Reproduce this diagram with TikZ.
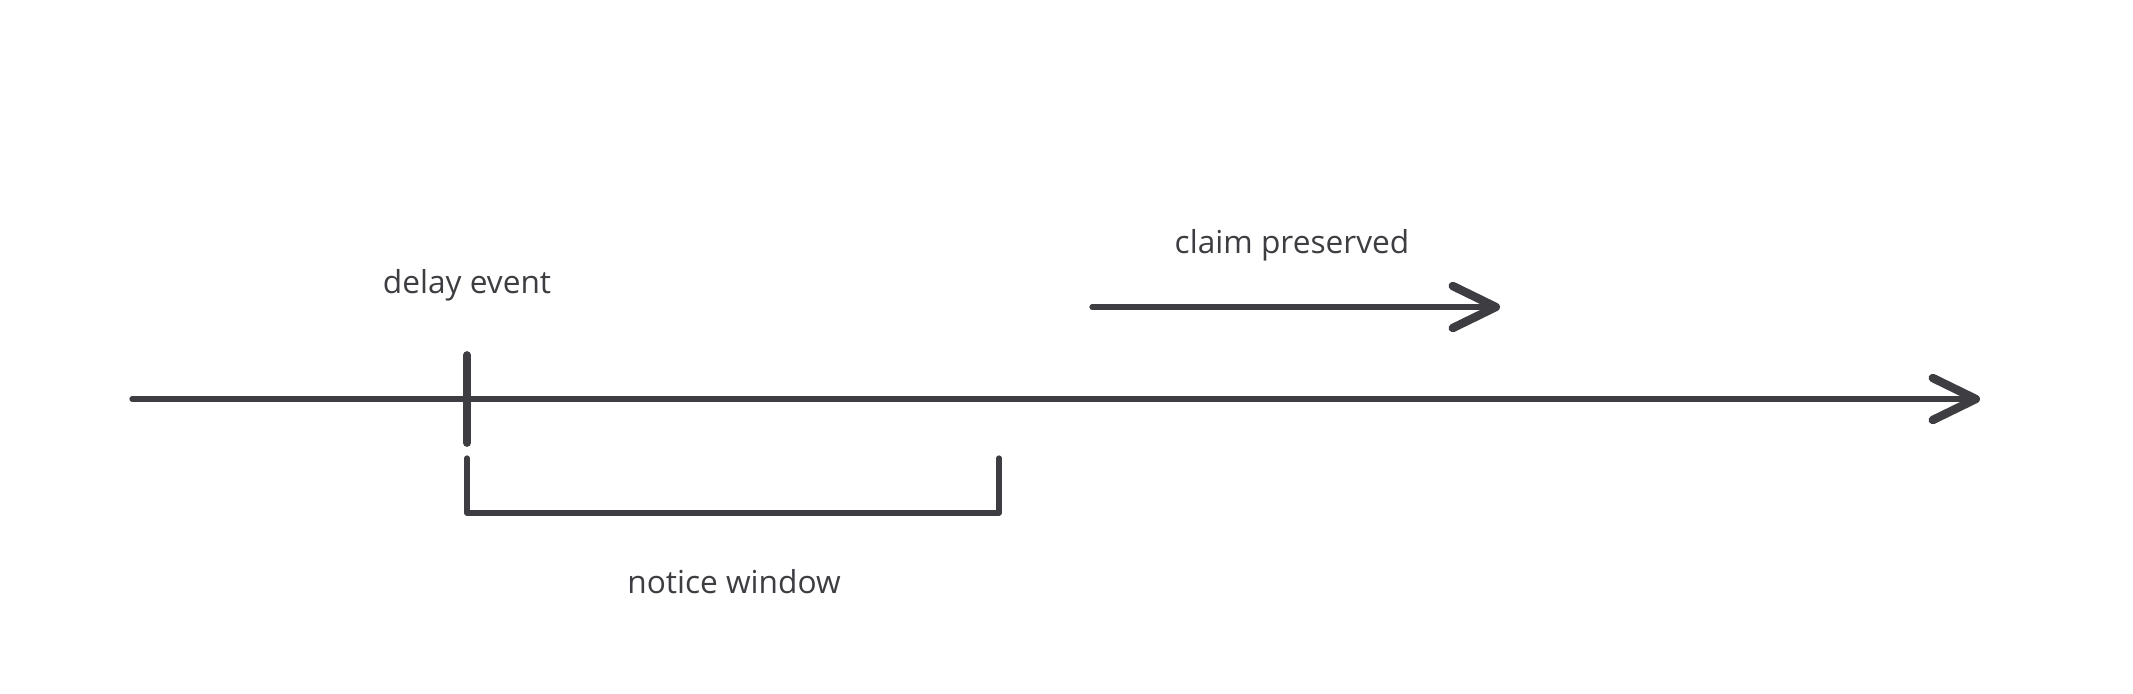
\documentclass[tikz,border=0pt]{standalone}
\usepackage{fontspec}
\setmainfont{Open Sans}
\usetikzlibrary{arrows.meta}
\definecolor{ink}{RGB}{62,62,66}
\begin{document}
\begin{tikzpicture}[x=0.01cm, y=-0.01cm,
  every node/.style={text=ink, font=\fontsize{9}{11}\selectfont, anchor=base},
  line/.style={draw=ink, line width=1.5pt, line cap=round, line join=round},
  head/.style={-{Straight Barb[length=0.43cm, width=0.42cm, line width=2.4pt, round]}}]
  \useasboundingbox (0,0) rectangle (2133,693);
  % time axis
  \coordinate (start) at (132,399);
  \coordinate (end) at (1980,399);
  \draw[line, head] (start) -- (end);
  % delay event
  \coordinate (ticktop) at (467,355);
  \coordinate (tickbot) at (467,443);
  \draw[line, line width=2.2pt] (ticktop) -- (tickbot);
  \node (delay) at (467,293) {delay event};
  % notice window
  \coordinate (winL) at (467,458);
  \coordinate (winR) at (999,458);
  \draw[line] (winL) -- (winL |- 0,513) -- (winR |- 0,513) -- (winR);
  \node (notice) at (734,593) {notice window};
  % claim preserved
  \coordinate (claimA) at (1092,307);
  \coordinate (claimB) at (1500,307);
  \draw[line, head] (claimA) -- (claimB);
  \node (claim) at (1292,253) {claim preserved};
\end{tikzpicture}
\end{document}
